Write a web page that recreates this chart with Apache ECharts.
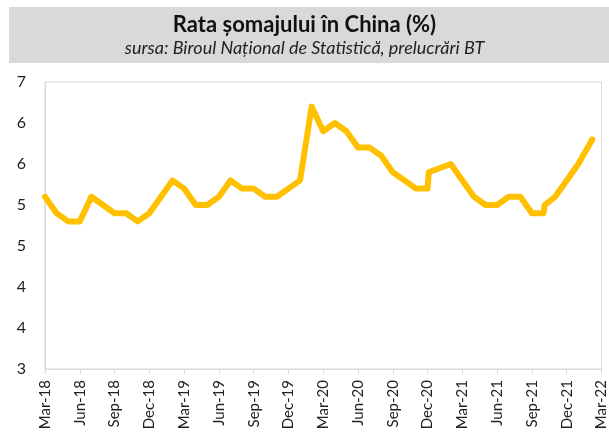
<!doctype html>
<html lang="ro">
<head>
  <meta charset="utf-8">
  <title>Rata somajului in China</title>
  <script src="https://cdn.jsdelivr.net/npm/echarts@6/dist/echarts.min.js"></script>
  <style>
    html, body { margin: 0; padding: 0; background: #fff; }
    #chart { width: 609px; height: 441px; }
  </style>
</head>
<body>
  <div id="chart"></div>
  <script type="text/javascript">
    // months counted from Mar-18 (= 0); a few points sit off the monthly grid in the original
    const monthPos = [0, 1, 2, 3, 4, 5, 6, 7, 8, 9, 10, 11,
                      12, 13, 14, 15, 16, 17, 18, 19, 20, 21, 22, 23,
                      24, 25, 26, 27, 28, 29, 30, 31, 32, 33, 33.1, 35,
                      36, 37, 38, 39, 40, 41, 42, 43, 43.1, 44, 45, 46, 47.2];
    const rate = [5.1, 4.9, 4.8, 4.8, 5.1, 5.0, 4.9, 4.9, 4.8, 4.9, 5.1, 5.3,
                  5.2, 5.0, 5.0, 5.1, 5.3, 5.2, 5.2, 5.1, 5.1, 5.2, 5.3, 6.2,
                  5.9, 6.0, 5.9, 5.7, 5.7, 5.6, 5.4, 5.3, 5.2, 5.2, 5.4, 5.5,
                  5.3, 5.1, 5.0, 5.0, 5.1, 5.1, 4.9, 4.9, 5.0, 5.1, 5.3, 5.5, 5.8];
    const tickLabels = ['Mar-18', 'Jun-18', 'Sep-18', 'Dec-18', 'Mar-19', 'Jun-19', 'Sep-19', 'Dec-19',
                        'Mar-20', 'Jun-20', 'Sep-20', 'Dec-20', 'Mar-21', 'Jun-21', 'Sep-21', 'Dec-21', 'Mar-22'];

    const font = 'Lato';
    let chart = echarts.init(document.getElementById('chart'));
    let option = {
      animation: false,
      graphic: [{
        type: 'rect',
        left: 9, top: 7,
        shape: { width: 600, height: 56 },
        style: { fill: '#d9d9d9' },
        z: -1
      }],
      title: {
        text: 'Rata șomajului în China (%)',
        subtext: 'sursa: Biroul Național de Statistică, prelucrări BT',
        left: 'center',
        top: 9,
        itemGap: 3,
        textStyle: { fontFamily: font, fontSize: 22, fontWeight: 'bold', color: '#111' },
        subtextStyle: { fontFamily: font, fontSize: 18, fontStyle: 'italic', color: '#222' }
      },
      grid: {
        show: true,
        left: 45, right: 6, top: 82, bottom: 72,
        borderColor: '#d9d9d9',
        borderWidth: 1
      },
      xAxis: {
        type: 'value',
        min: 0, max: 48, interval: 3,
        axisLine: { show: true, lineStyle: { color: '#d9d9d9' } },
        axisTick: { show: true, length: 5, lineStyle: { color: '#d9d9d9' } },
        splitLine: { show: false },
        axisLabel: {
          rotate: 90,
          margin: 11,
          fontFamily: font,
          fontSize: 15,
          color: '#222',
          formatter: (v) => tickLabels[Math.round(v / 3)]
        }
      },
      yAxis: {
        type: 'value',
        min: 3, max: 6.5, interval: 0.5,
        axisLine: { show: true, lineStyle: { color: '#d9d9d9' } },
        axisTick: { show: false },
        splitLine: { show: false },
        axisLabel: {
          margin: 19,
          fontFamily: font,
          fontSize: 16,
          color: '#222',
          formatter: (v) => String(Math.round(v))
        }
      },
      series: [{
        type: 'line',
        data: monthPos.map((m, i) => [m, rate[i]]),
        symbol: 'none',
        lineStyle: { color: '#ffc000', width: 6, join: 'round', cap: 'round' }
      }]
    };
    chart.setOption(option);
  </script>
</body>
</html>
